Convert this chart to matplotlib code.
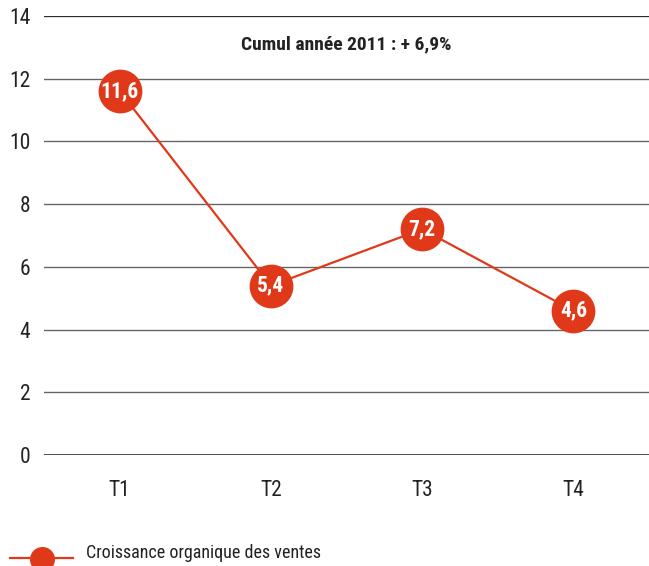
import matplotlib
matplotlib.use("Agg")
import matplotlib.pyplot as plt
from matplotlib.lines import Line2D

plt.rcParams['font.family'] = ['Roboto Condensed', 'DejaVu Sans']

quarters = ['T1', 'T2', 'T3', 'T4']
growth = [11.6, 5.4, 7.2, 4.6]
labels = ['11,6', '5,4', '7,2', '4,6']
red = '#E0391A'

fig = plt.figure(figsize=(6.49, 5.66), dpi=100)
ax = fig.add_axes([0.068, 0.196, 0.932, 0.776])

x = range(len(quarters))
ax.plot(x, growth, color=red, lw=1.6, zorder=3)
ax.plot(x, growth, 'o', ms=30.5, color=red, zorder=4)
for xi, yi, lab in zip(x, growth, labels):
    ax.text(xi, yi, lab, ha='center', va='center', color='white',
            fontsize=15.5, fontweight='bold', zorder=5)

ax.set_xlim(-0.5, 3.5)
ax.set_ylim(0, 14)
ax.set_yticks(range(0, 15, 2))
ax.set_xticks(list(x))
ax.set_xticklabels(quarters)
ax.tick_params(axis='both', length=0, labelsize=15.5, colors='#222222')
ax.tick_params(axis='y', pad=10)
ax.tick_params(axis='x', pad=18)
for s in ax.spines.values():
    s.set_visible(False)
ax.grid(axis='y', color='#666666', lw=1)
ax.axhline(0, color='#333333', lw=1.2)
ax.axhline(14, color='#222222', lw=1.2)

ax.text(0.5, 0.935, 'Cumul année 2011 : + 6,9%', transform=ax.transAxes,
        ha='center', va='center', fontsize=14, fontweight='bold', color='#222222')

# legend
fig.add_artist(Line2D([10 / 649, 73 / 649], [8 / 566, 8 / 566], color=red, lw=1.6))
fig.add_artist(Line2D([42 / 649], [7 / 566], marker='o', ms=17, color=red))
fig.text(86 / 649, 13 / 566, 'Croissance organique des ventes', fontsize=13,
         color='#222222', va='center')

fig.savefig('out.png', dpi=100)
